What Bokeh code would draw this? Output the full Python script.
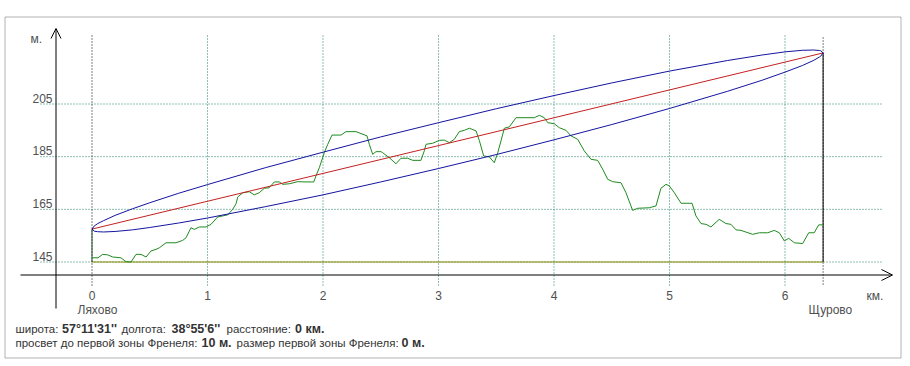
from bokeh.plotting import figure
from bokeh.models import Range1d, Arrow, OpenHead, Label, BoxAnnotation
from bokeh.core.properties import value
from bokeh.embed import file_html
from bokeh.resources import INLINE

# ---------------- data ----------------
terrain_km = [0.000, 0.052, 0.093, 0.136, 0.179, 0.251, 0.294, 0.338, 0.381, 0.424,
              0.468, 0.511, 0.554, 0.583, 0.641, 0.727, 0.785, 0.814, 0.857, 0.886,
              0.929, 0.987, 1.030, 1.088, 1.132, 1.175, 1.218, 1.247, 1.262, 1.305,
              1.362, 1.405, 1.448, 1.492, 1.535, 1.578, 1.622, 1.651, 1.708, 1.781,
              1.853, 1.920, 1.939, 1.968, 2.011, 2.041, 2.078, 2.156, 2.199, 2.286,
              2.381, 2.401, 2.430, 2.459, 2.502, 2.517, 2.574, 2.632, 2.675, 2.733,
              2.777, 2.848, 2.877, 2.892, 2.950, 3.007, 3.050, 3.094, 3.137, 3.180,
              3.223, 3.267, 3.325, 3.353, 3.391, 3.440, 3.483, 3.513, 3.541, 3.570,
              3.613, 3.671, 3.758, 3.830, 3.873, 3.916, 3.946, 4.003, 4.046, 4.104,
              4.147, 4.205, 4.262, 4.320, 4.378, 4.422, 4.465, 4.508, 4.580, 4.623,
              4.681, 4.725, 4.825, 4.883, 4.926, 4.970, 4.998, 5.042, 5.100, 5.195,
              5.229, 5.273, 5.316, 5.359, 5.431, 5.489, 5.532, 5.576, 5.619, 5.720,
              5.777, 5.850, 5.907, 5.951, 5.994, 6.032, 6.081, 6.153, 6.205, 6.253,
              6.292, 6.330]
terrain_m = [146.6, 146.6, 147.9, 147.7, 146.9, 146.6, 145.1, 145.0, 147.9, 147.9,
             146.9, 149.2, 149.8, 150.4, 152.3, 152.3, 153.2, 154.2, 158.0, 157.4,
             158.3, 158.3, 159.3, 162.1, 162.5, 162.9, 165.0, 167.1, 169.7, 171.3,
             171.7, 170.5, 171.3, 173.0, 173.2, 175.4, 175.4, 174.5, 174.7, 175.5,
             175.4, 175.4, 177.7, 180.8, 186.5, 189.7, 193.2, 193.2, 194.5, 194.5,
             192.9, 189.7, 185.9, 186.9, 186.9, 186.5, 184.6, 182.3, 184.4, 184.4,
             183.6, 183.6, 187.2, 189.7, 190.1, 191.2, 191.3, 190.3, 191.6, 194.5,
             195.0, 195.8, 194.8, 191.2, 185.3, 184.9, 182.7, 186.5, 191.0, 195.8,
             196.3, 199.8, 199.8, 199.8, 200.7, 199.8, 197.9, 197.5, 196.0, 195.0,
             192.9, 191.6, 187.2, 184.0, 183.6, 180.2, 176.4, 175.5, 175.1, 171.3,
             164.6, 165.4, 165.6, 166.3, 173.0, 174.5, 173.9, 171.3, 167.3, 167.3,
             162.5, 159.6, 159.3, 158.3, 161.2, 159.6, 159.3, 157.2, 157.0, 155.5,
             156.1, 156.1, 157.0, 156.1, 153.0, 154.0, 152.3, 152.0, 156.1, 156.1,
             159.1, 159.1]

fresnel_km = [0.0, 0.02, 0.05, 0.1, 0.2, 0.35, 0.5, 0.75, 1.0, 1.5, 2.0, 2.5, 3.0,
              3.5, 4.0, 4.5, 5.0, 5.5, 5.8, 6.0, 6.15, 6.25, 6.3, 6.31, 6.33]
fresnel_top_m = [157.5, 158.7, 159.6, 160.7, 162.7, 165.2, 167.5, 171.1, 174.4, 180.8,
                 186.7, 192.5, 197.9, 203.2, 208.2, 213.0, 217.5, 221.5, 223.6, 224.8,
                 225.4, 225.5, 225.3, 225.2, 224.4]
fresnel_bottom_m = [157.5, 156.7, 156.5, 156.4, 156.6, 157.2, 158.1, 159.8, 161.7, 166.0,
                    170.5, 175.4, 180.5, 185.8, 191.4, 197.2, 203.3, 209.8, 214.0, 217.1,
                    219.6, 221.6, 222.9, 223.2, 224.4]

path_km = 6.33
ant_left_m = 157.5
ant_right_m = 224.4
base_m = 145.0

y_ticks = [145, 165, 185, 205]
x_ticks = [0, 1, 2, 3, 4, 5, 6]
x_tick_labels = ["0", "1", "2", "3", "4", "5", "6"]
site_km = [0.0, 6.33]
site_names = ["Ляхово", "Щурово"]

# ---------------- layout helpers (picture pixels -> data) ----------------
W, H = 908, 364
PXK = 115.5      # pixels per km
PXM = 2.6333     # pixels per metre
X0PX, Y145PX = 91.5, 261.5


def kx(px):
    return (px - X0PX) / PXK


def my(py):
    return 145.0 + (Y145PX - py) / PXM


FONT_NAME = "Liberation Sans"
FONT = value(FONT_NAME)
GRID = "#1f7f6a"

p = figure(width=W, height=H, output_backend="svg", toolbar_location=None,
           x_range=Range1d(kx(0), kx(W)), y_range=Range1d(my(H), my(0)),
           x_axis_type=None, y_axis_type=None, min_border=0)
p.outline_line_color = None
p.background_fill_color = "white"
p.border_fill_color = "white"

# outer frame
p.add_layout(BoxAnnotation(left=kx(4.5), right=kx(900.5), top=my(16.5), bottom=my(357.5),
                           fill_alpha=0, line_color="black", line_width=1))

# horizontal grid
p.multi_line(xs=[[kx(40), kx(883)] for _ in y_ticks], ys=[[t, t] for t in y_ticks],
             line_color=GRID, line_width=1, line_dash="1 2")
# vertical grid
vt = [t for t in x_ticks if t != 0]
p.multi_line(xs=[[t, t] for t in vt], ys=[[my(35), my(285)] for _ in vt],
             line_color=GRID, line_width=1, line_dash="1 2")
p.multi_line(xs=[[site_km[0], site_km[0]], [site_km[1], site_km[1]]],
             ys=[[my(35), my(285)], [my(37), my(285)]],
             line_color="black", line_width=1, line_dash="1 2")

# earth / base line
p.line([0, path_km], [base_m, base_m], line_color="#8a8a00", line_width=1)

# masts
p.line([0, 0], [base_m, ant_left_m], line_color="#204a20", line_width=1)
p.line([path_km, path_km], [base_m, ant_right_m], line_color="black", line_width=1)

# terrain
p.line(terrain_km, terrain_m, line_color="#1f8a1f", line_width=1)

# line of sight
p.line([0, path_km], [ant_left_m, ant_right_m], line_color="#c42020", line_width=1)

# Fresnel zone
p.line(fresnel_km, fresnel_top_m, line_color="#1414a0", line_width=1)
p.line(fresnel_km, fresnel_bottom_m, line_color="#1414a0", line_width=1)

# axes with arrows
p.add_layout(Arrow(end=OpenHead(size=10, line_color="black", line_width=1),
                   x_start=kx(55.5), y_start=my(308), x_end=kx(55.5), y_end=my(28),
                   line_color="black", line_width=1))
p.add_layout(Arrow(end=OpenHead(size=11, line_color="black", line_width=1),
                   x_start=kx(20), y_start=my(274.5), x_end=kx(892), y_end=my(274.5),
                   line_color="black", line_width=1))

TICK_COLOR = "#505050"
# y tick labels (sit above their grid lines)
p.text(x=[kx(52)] * len(y_ticks), y=[t + 6 / PXM for t in y_ticks],
       text=[str(t) for t in y_ticks], text_font=FONT, text_font_size="12px",
       text_color=TICK_COLOR, text_align="right", text_baseline="alphabetic")
# x tick labels
p.text(x=x_ticks, y=[my(295)] * len(x_ticks), text=x_tick_labels, text_font=FONT,
       text_font_size="12px", text_color=TICK_COLOR, text_align="center",
       text_baseline="alphabetic")
# site names
p.text(x=[k - 14.5 / PXK for k in site_km], y=[my(309)] * 2, text=site_names,
       text_font=FONT, text_font_size="12px", text_color=TICK_COLOR,
       text_align="left", text_baseline="alphabetic")
# units
p.add_layout(Label(x=kx(30), y=my(38), text="м.", text_font=FONT_NAME, text_font_size="12px",
                   text_color=TICK_COLOR, text_baseline="alphabetic"))
p.add_layout(Label(x=kx(866), y=my(295), text="км.", text_font=FONT_NAME, text_font_size="12px",
                   text_color=TICK_COLOR, text_baseline="alphabetic"))

# info lines (mixed normal / bold)
INFO = "#333333"
line1 = [(15.0, "широта:", "normal"), (61.5, "57°11'31''", "bold"),
         (121.0, "долгота:", "normal"), (171.0, "38°55'6''", "bold"),
         (226.0, "расстояние:", "normal"), (294.5, "0 км.", "bold")]
line2 = [(15.0, "просвет до первой зоны Френеля:", "normal"), (201.0, "10 м.", "bold"),
         (236.0, "размер первой зоны Френеля:", "normal"), (401.0, "0 м.", "bold")]
for yy, segs in ((328, line1), (342, line2)):
    for xx, txt, st in segs:
        fs = "12.5px" if st == "bold" else "11.5px"
        p.add_layout(Label(x=kx(xx), y=my(yy), text=txt, text_font=FONT_NAME,
                           text_font_size=fs, text_color=INFO,
                           text_font_style=st, text_baseline="alphabetic"))

open("out.html", "w").write(file_html(p, INLINE))
